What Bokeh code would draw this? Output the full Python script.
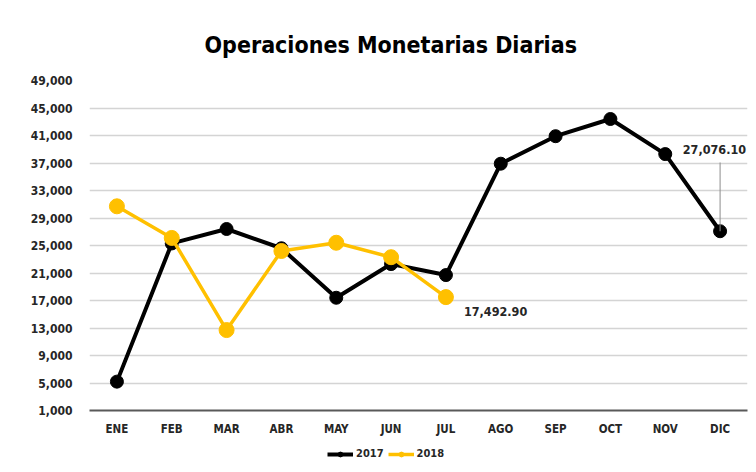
from bokeh.plotting import figure
from bokeh.layouts import column
from bokeh.models import (ColumnDataSource, Range1d, Legend, LegendItem,
                          NumeralTickFormatter, FixedTicker)
from bokeh.core.properties import value
from bokeh.embed import file_html
from bokeh.resources import INLINE

months = ["ENE", "FEB", "MAR", "ABR", "MAY", "JUN", "JUL", "AGO", "SEP", "OCT", "NOV", "DIC"]
values_2017 = [5200, 25300, 27400, 24600, 17400, 22300, 20700, 36900, 40900, 43400, 38300, 27076.10]
months_2018 = ["ENE", "FEB", "MAR", "ABR", "MAY", "JUN", "JUL"]
values_2018 = [30700, 26100, 12700, 24200, 25400, 23300, 17492.90]
y_ticks = [1000, 5000, 9000, 13000, 17000, 21000, 25000, 29000, 33000, 37000, 41000, 45000, 49000]
series_names = ["2017", "2018"]

FONT = "DejaVu Sans Condensed"
BLACK = "#000000"
GOLD = "#FFC000"

p = figure(x_range=months, y_range=Range1d(y_ticks[0], y_ticks[-1]),
           width=756, height=442, output_backend="svg", toolbar_location=None,
           min_border_left=89, min_border_right=9, min_border_top=80, min_border_bottom=32)

p.title.text = "Operaciones Monetarias Diarias"
p.title.align = "left"
p.title.offset = 115
p.title.standoff = 46
p.title.text_font = FONT
p.title.text_font_size = "23px"
p.title.text_font_style = "bold"
p.title.text_color = "#000000"

p.outline_line_color = None
p.background_fill_color = "white"
p.border_fill_color = "white"

p.xgrid.grid_line_color = None
p.ygrid.grid_line_color = "#d4d4d4"
p.ygrid.grid_line_width = 1.5

p.yaxis.ticker = FixedTicker(ticks=y_ticks)
p.yaxis.formatter = NumeralTickFormatter(format="0,0")
p.yaxis.axis_line_color = None
p.yaxis.major_tick_line_color = None
p.yaxis.minor_tick_line_color = None
p.yaxis.major_label_standoff = 11
p.yaxis.major_label_text_font = FONT
p.yaxis.major_label_text_font_size = "12px"
p.yaxis.major_label_text_font_style = "bold"
p.yaxis.major_label_text_color = "#262626"

p.xaxis.axis_line_color = "#595959"
p.xaxis.axis_line_width = 2
p.xaxis.major_tick_line_color = None
p.xaxis.minor_tick_line_color = None
p.xaxis.major_label_standoff = 5
p.xaxis.major_label_text_font = FONT
p.xaxis.major_label_text_font_size = "11.5px"
p.xaxis.major_label_text_font_style = "bold"
p.xaxis.major_label_text_color = "#262626"

src17 = ColumnDataSource(dict(x=months, y=values_2017))
src18 = ColumnDataSource(dict(x=months_2018, y=values_2018))

STY17 = dict(line=dict(line_color=BLACK, line_width=4),
             mark=dict(size=13, fill_color=BLACK, line_color=BLACK))
STY18 = dict(line=dict(line_color=GOLD, line_width=3.5),
             mark=dict(size=15, fill_color=GOLD, line_color=GOLD))

p.line("x", "y", source=src17, **STY17["line"])
p.scatter("x", "y", source=src17, **STY17["mark"])
p.line("x", "y", source=src18, **STY18["line"])
p.scatter("x", "y", source=src18, **STY18["mark"])

# data labels
lab18 = ColumnDataSource(dict(x=[months_2018[-1]], y=[values_2018[-1]],
                              t=[f"{values_2018[-1]:,.2f}"]))
p.text("x", "y", text="t", source=lab18, x_offset=18, y_offset=14,
       text_font=value(FONT), text_font_size="12.5px", text_font_style="bold",
       text_color="#262626", text_align="left", text_baseline="middle")

lab17 = ColumnDataSource(dict(x=[months[-1]], y=[values_2017[-1]],
                              t=[f"{values_2017[-1]:,.2f}"], y1=[values_2017[-1] + 10000]))
p.segment(x0="x", y0="y", x1="x", y1="y1", source=lab17, line_color="#8c8c8c", line_width=1)
p.text("x", "y", text="t", source=lab17, x_offset=26, y_offset=-82,
       text_font=value(FONT), text_font_size="12.5px", text_font_style="bold",
       text_color="#262626", text_align="right", text_baseline="middle")

# legend strip below the chart (series drawn off-frame, only used as legend proxies)
lg = figure(width=756, height=30, output_backend="svg", toolbar_location=None,
            x_range=p.x_range, y_range=Range1d(0, 1),
            x_axis_location=None, y_axis_location=None,
            min_border=0, outline_line_color=None)
lg.grid.visible = False
items = []
for name, sty, src in zip(series_names, [STY17, STY18], [src17, src18]):
    r1 = lg.line("x", "y", source=src, **sty["line"])
    r2 = lg.scatter("x", "y", source=src, **dict(sty["mark"], size=8))
    items.append(LegendItem(label=name, renderers=[r1, r2]))
legend = Legend(items=items, orientation="horizontal", location=(238, 12),
                border_line_color=None, background_fill_alpha=0,
                label_text_font=FONT, label_text_font_size="11px",
                label_text_font_style="bold", label_text_color="#262626",
                glyph_width=26, glyph_height=12, spacing=4, padding=0, margin=0,
                label_standoff=3, label_height=12)
lg.add_layout(legend)

open("out.html", "w").write(file_html(column(p, lg, spacing=0), INLINE))
